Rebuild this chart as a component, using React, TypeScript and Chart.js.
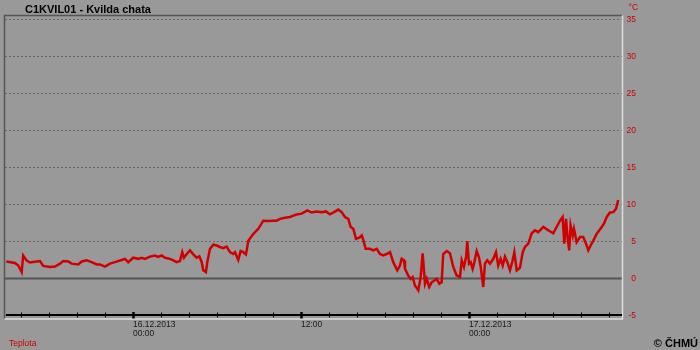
import React, { useEffect, useRef } from 'react';
import { Chart, registerables } from 'chart.js';

Chart.register(...registerables);

// hours relative to 16.12.2013 00:00
const HOURS = [
  -9.05, -8.43, -8.19, -7.95, -7.84, -7.59, -7.36, -6.64, -6.41, -5.93, -5.57, -5.21, -4.98, -4.62, -4.38,
  -3.91, -3.66, -3.31, -2.95, -2.59, -2.36, -2.0, -1.64, -1.29, -0.81, -0.57, -0.34, 0.02, 0.38, 0.62,
  0.86, 1.21, 1.57, 1.81, 2.05, 2.29, 2.64, 2.88, 3.12, 3.36, 3.52, 3.64, 3.84, 4.07, 4.31,
  4.55, 4.74, 4.91, 5.02, 5.21, 5.31, 5.5, 5.74, 5.98, 6.21, 6.45, 6.69, 6.93, 7.16, 7.29,
  7.52, 7.69, 7.88, 8.07, 8.24, 8.59, 8.95, 9.31, 9.66, 10.02, 10.26, 10.5, 10.86, 11.21, 11.69,
  12.05, 12.45, 12.76, 13.12, 13.48, 13.79, 14.07, 14.36, 14.66, 14.91, 15.14, 15.38, 15.55, 15.74, 15.93,
  16.16, 16.34, 16.45, 16.62, 16.93, 17.16, 17.41, 17.64, 17.88, 18.12, 18.36, 18.59, 18.88, 19.07, 19.19,
  19.36, 19.43, 19.66, 19.84, 19.98, 20.14, 20.38, 20.55, 20.69, 20.86, 20.98, 21.16, 21.34, 21.57, 21.69,
  21.88, 22.05, 22.16, 22.41, 22.64, 22.88, 23.12, 23.36, 23.48, 23.64, 23.79, 23.88, 24.0, 24.12, 24.26,
  24.36, 24.55, 24.71, 24.84, 25.02, 25.14, 25.31, 25.5, 25.74, 25.93, 26.09, 26.26, 26.41, 26.57, 26.74,
  26.93, 27.12, 27.24, 27.41, 27.64, 27.84, 28.0, 28.24, 28.48, 28.71, 28.95, 29.31, 29.66, 30.02, 30.26,
  30.5, 30.69, 30.81, 30.93, 31.05, 31.16, 31.26, 31.41, 31.5, 31.69, 31.93, 32.16, 32.36, 32.52, 32.69,
  32.88, 33.12, 33.31, 33.48, 33.64, 33.84, 34.07, 34.31, 34.5, 34.66,
];

const TEMPS = [
  2.3, 2.1, 1.75, 0.85, 3.1, 2.4, 2.15, 2.35, 1.7, 1.55, 1.6, 2.0, 2.35, 2.3, 2.0,
  1.9, 2.3, 2.45, 2.2, 1.9, 1.9, 1.6, 2.0, 2.2, 2.5, 2.65, 2.2, 2.8, 2.65, 2.8,
  2.65, 2.95, 3.1, 2.9, 3.1, 2.8, 2.65, 2.45, 2.2, 2.35, 3.55, 2.8, 3.3, 3.8, 3.25,
  2.8, 3.0, 2.2, 1.1, 0.85, 2.2, 4.0, 4.55, 4.45, 4.25, 4.1, 4.3, 3.55, 3.3, 3.55,
  2.5, 3.7, 3.55, 3.25, 5.1, 6.0, 6.7, 7.8, 7.75, 7.8, 7.8, 8.05, 8.2, 8.3, 8.65,
  8.75, 9.2, 8.9, 9.05, 8.95, 9.05, 8.65, 8.95, 9.3, 8.95, 8.3, 8.05, 6.95, 6.7, 5.35,
  5.5, 5.8, 5.2, 4.0, 4.0, 3.8, 4.0, 3.3, 3.1, 3.3, 3.55, 2.2, 1.1, 1.75, 2.65,
  2.45, 1.3, 0.4, -0.05, 0.2, -0.95, -1.6, 0.2, 3.4, -0.7, -0.05, -1.15, -0.5, -0.25, -0.05,
  -0.7, -0.5, 3.3, 3.7, 3.4, 1.55, 0.4, 0.2, 2.45, 1.55, 2.9, 5.05, 2.0, 2.2, 1.3,
  2.0, 3.7, 2.9, 1.55, -1.15, 2.0, 2.45, 2.0, 2.65, 3.55, 1.75, 2.65, 1.75, 2.95, 2.2,
  1.1, 2.45, 3.55, 1.1, 1.45, 3.55, 4.25, 4.7, 6.1, 6.5, 6.25, 6.95, 6.5, 6.1, 6.95,
  7.8, 8.3, 4.7, 8.05, 5.35, 3.8, 7.15, 5.8, 6.7, 4.9, 5.6, 5.6, 4.7, 3.8, 4.45,
  5.1, 6.0, 6.5, 6.95, 7.4, 8.3, 8.9, 8.95, 9.4, 10.6,
];

const Y_TICKS = [-5, 0, 5, 10, 15, 20, 25, 30, 35];
const X_TICKS = [-8, -6, -4, -2, 0, 2, 4, 6, 8, 10, 12, 14, 16, 18, 20, 22, 24, 26, 28, 30, 32, 34];
const X_MAJOR = [0, 12, 24];
const X_MAJOR_LABELS = [['16.12.2013', '00:00'], ['12:00'], ['17.12.2013', '00:00']];

const TITLE = 'C1KVIL01 - Kvilda chata';
const UNIT = '°C';
const SERIES_NAME = 'Teplota';
const COPYRIGHT = '© ČHMÚ';

const BG = '#999999';
const RED = '#cc0000';
const FONT = "'Liberation Sans', Arial, sans-serif";

const decor = {
  id: 'decor',
  beforeDraw(chart: any) {
    const ctx = chart.ctx;
    ctx.save();
    ctx.fillStyle = BG;
    ctx.fillRect(0, 0, chart.width, chart.height);
    ctx.restore();
  },
  beforeDatasetsDraw(chart: any) {
    const ctx = chart.ctx;
    const ca = chart.chartArea;
    const py = chart.scales.y.getPixelForValue(0);
    ctx.save();
    ctx.strokeStyle = '#555555';
    ctx.lineWidth = 2;
    ctx.beginPath();
    ctx.moveTo(ca.left, py);
    ctx.lineTo(ca.right, py);
    ctx.stroke();
    ctx.restore();
  },
  afterDraw(chart: any) {
    const ctx = chart.ctx;
    const ca = chart.chartArea;
    const xs = chart.scales.x;
    ctx.save();
    // frame
    ctx.lineWidth = 1.5;
    ctx.strokeStyle = '#555555';
    ctx.beginPath();
    ctx.moveTo(4.5, 319);
    ctx.lineTo(4.5, ca.top);
    ctx.lineTo(ca.right, ca.top);
    ctx.stroke();
    ctx.strokeStyle = '#dddddd';
    ctx.beginPath();
    ctx.moveTo(ca.right + 0.5, ca.top);
    ctx.lineTo(ca.right + 0.5, 319);
    ctx.lineTo(4.5, 319);
    ctx.stroke();
    // x axis line
    ctx.strokeStyle = '#000000';
    ctx.lineWidth = 2;
    ctx.beginPath();
    ctx.moveTo(6, 315);
    ctx.lineTo(ca.right, 315);
    ctx.stroke();
    // tick marks
    X_TICKS.forEach((v) => {
      const px = Math.round(xs.getPixelForValue(v)) + 0.5;
      const major = X_MAJOR.includes(v);
      ctx.lineWidth = major ? 2.5 : 1;
      ctx.beginPath();
      ctx.moveTo(px, major ? 312 : 312.5);
      ctx.lineTo(px, major ? 318.5 : 317.5);
      ctx.stroke();
    });
    // texts
    ctx.textBaseline = 'alphabetic';
    ctx.textAlign = 'left';
    ctx.fillStyle = '#000000';
    ctx.font = `bold 11px ${FONT}`;
    ctx.fillText(TITLE, 25, 12.5);
    ctx.fillStyle = RED;
    ctx.font = `8.5px ${FONT}`;
    ctx.fillText(UNIT, 628.5, 10);
    ctx.fillText(SERIES_NAME, 9, 346);
    ctx.fillStyle = '#000000';
    ctx.font = `bold 11px ${FONT}`;
    ctx.textAlign = 'right';
    ctx.fillText(COPYRIGHT, 698, 346.5);
    ctx.restore();
  },
};

export default function App() {
  const ref = useRef<HTMLCanvasElement | null>(null);
  useEffect(() => {
    if (!ref.current) return;
    const data = HOURS.map((h, i) => ({ x: h, y: TEMPS[i] }));
    const chart = new Chart(ref.current, {
      type: 'line',
      data: {
        datasets: [
          {
            label: SERIES_NAME,
            data,
            borderColor: '#d00000',
            borderWidth: 2.5,
            pointRadius: 0,
            tension: 0,
            fill: false,
          },
        ],
      },
      plugins: [decor],
      options: {
        animation: false,
        responsive: false,
        maintainAspectRatio: false,
        devicePixelRatio: 1,
        layout: { padding: { left: 5, top: 15.5, right: 64, bottom: 0 } },
        plugins: { legend: { display: false }, tooltip: { enabled: false }, title: { display: false } },
        scales: {
          x: {
            type: 'linear',
            min: -9.14,
            max: 34.93,
            afterFit: (s: any) => {
              s.height = 34.5;
            },
            afterBuildTicks: (s: any) => {
              s.ticks = X_TICKS.map((v) => ({ value: v }));
            },
            grid: { display: false, drawTicks: false, tickLength: 0 },
            border: { display: false },
            ticks: {
              autoSkip: false,
              maxRotation: 0,
              minRotation: 0,
              align: 'start',
              padding: 4,
              color: '#1a1a1a',
              font: { family: FONT, size: 8.5, lineHeight: 1.1 },
              callback: (v: any) => {
                const i = X_MAJOR.indexOf(Number(v));
                return i >= 0 ? X_MAJOR_LABELS[i] : '';
              },
            },
          },
          y: {
            type: 'linear',
            position: 'right',
            min: -5,
            max: 35.5,
            afterFit: (s: any) => {
              s.width = 14;
            },
            afterBuildTicks: (s: any) => {
              s.ticks = Y_TICKS.map((v) => ({ value: v }));
            },
            grid: { color: '#666666', lineWidth: 1, drawTicks: false, tickLength: 0 },
            border: { display: false, dash: [2, 2] },
            ticks: {
              crossAlign: 'far',
              padding: 4.5,
              color: RED,
              font: { family: FONT, size: 8.5 },
              callback: (v: any) => String(v),
            },
          },
        },
      },
    } as any);
    return () => chart.destroy();
  }, []);
  return (
    <div style={{ position: 'absolute', left: 0, top: 0, width: 700, height: 350 }}>
      <canvas ref={ref} width={700} height={350} style={{ width: 700, height: 350, display: 'block' }} />
    </div>
  );
}
